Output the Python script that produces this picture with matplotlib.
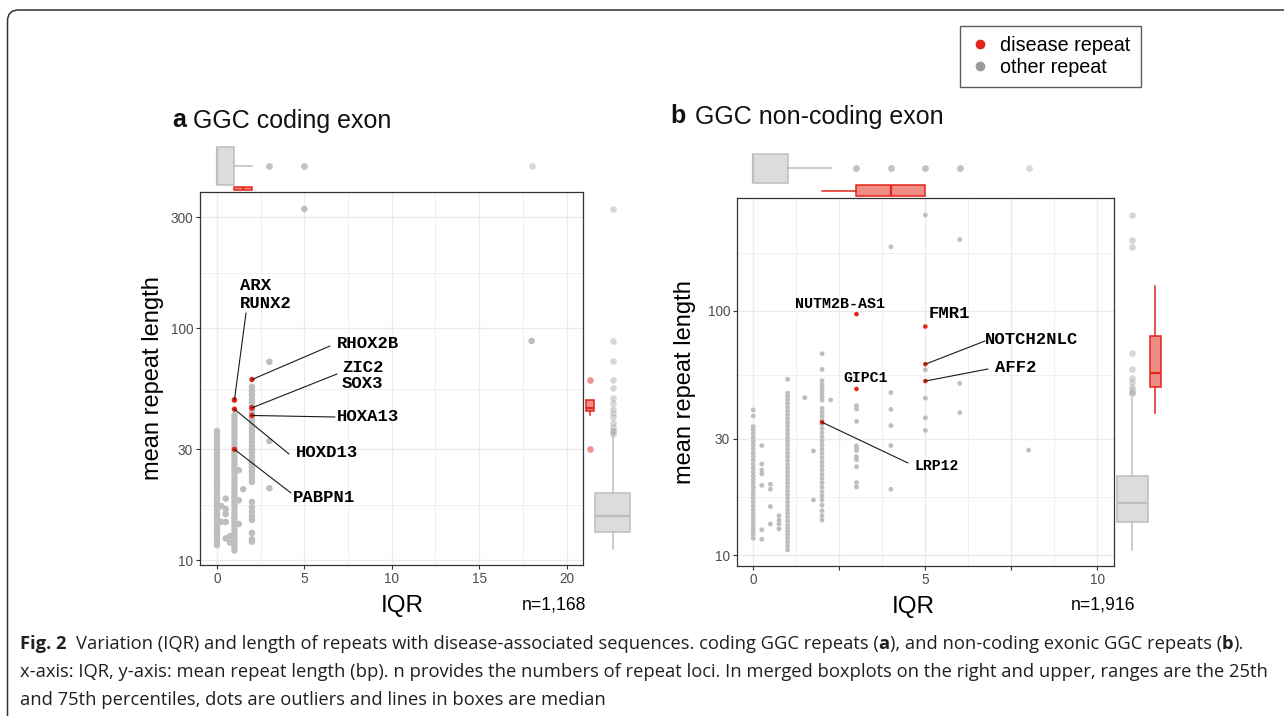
import matplotlib
matplotlib.use("Agg")
import matplotlib.pyplot as plt
from matplotlib.path import Path
from matplotlib.patches import PathPatch
from matplotlib.lines import Line2D

W, H = 1284, 716

# ====================== DATA ======================
# ---- panel a: GGC coding exon, other repeats (mean repeat length by IQR column)
a_other_iqr0 = [11.6, 12.0, 12.4, 12.8, 13.2, 13.6, 14.0, 14.5, 15.0, 15.5, 16.0, 16.5,
                17.0, 17.6, 18.2, 18.8, 19.4, 20.0, 20.7, 21.4, 22.1, 22.8, 23.6, 24.4,
                25.2, 26.0, 27.0, 28.0, 29.0, 30.0, 31.0, 32.2, 33.4, 34.6, 36.0]
a_other_iqr1 = [11.0, 11.4, 11.8, 12.2, 12.6, 13.0, 13.5, 14.0, 14.5, 15.0, 15.5, 16.0,
                16.6, 17.2, 17.8, 18.4, 19.0, 19.7, 20.4, 21.1, 21.8, 22.6, 23.4, 24.2,
                25.0, 25.9, 26.8, 27.8, 28.8, 29.8, 30.9, 32.0, 33.2, 34.4, 35.6, 36.9,
                38.2, 39.6, 41.0, 42.2]
a_other_iqr2 = [12.0, 12.3, 13.1, 14.9, 15.5, 16.2, 16.9, 17.8, 21.7, 22.5, 23.3, 24.2,
                25.1, 26.0, 27.0, 28.0, 29.0, 30.0, 31.0, 32.2, 33.4, 34.6, 35.9, 37.2,
                38.5, 40.0, 41.5, 43.0, 44.5, 46.0, 47.7, 49.5, 51.5, 53.5, 55.8]
a_other_misc_iqr = [0.25, 0.5, 0.5, 0.25, 0.5, 0.5, 0.75, 0.75, 0.5,
                    1.25, 1.5, 1.25, 1.25, 3, 3, 3, 5, 18]
a_other_misc_len = [17.1, 18.4, 15.8, 14.6, 14.6, 12.4, 12.7, 11.9, 16.6,
                    24.4, 20.2, 18.1, 14.3, 32.6, 20.4, 71.6, 326, 88]

a_genes = ["ARX", "RUNX2", "RHOX2B", "ZIC2", "SOX3", "HOXA13", "HOXD13", "PABPN1"]
a_gene_iqr = [1, 1, 2, 2, 2, 2, 1, 1]
a_gene_len = [49.0, 49.0, 60.0, 45.3, 45.3, 42.0, 44.7, 30.0]

# marginal boxplot statistics: [q1, median, q3, whisker_low, whisker_high]
a_top_other_box = [0, 0, 1, 0, 2]
a_top_other_out = [3, 3, 5, 5, 18]
a_top_dis_box = [1, 1.5, 2, 1, 2]
a_top_dis_out = []
a_right_other_box = [13.2, 15.5, 19.4, 11.2, 34.6]
a_right_other_out = [326, 88, 72, 60, 55.4, 50, 47.5, 45, 43.2, 41.5, 39, 37.5, 36, 36, 35]
a_right_dis_box = [44.0, 45.3, 49.0, 42.0, 49.0]
a_right_dis_out = [30, 60]

# ---- panel b: GGC non-coding exon
b_other_iqr0 = [11.7, 12.1, 12.5, 12.9, 13.3, 13.8, 14.3, 14.8, 15.3, 15.9, 16.5, 17.1,
                17.7, 18.3, 19.0, 19.7, 20.4, 21.1, 21.9, 22.7, 23.5, 24.4, 25.3, 26.2,
                27.2, 28.2, 29.2, 30.3, 31.4, 32.5, 33.6, 37.1, 39.3]
b_other_iqr1 = [10.5, 10.9, 11.3, 11.7, 12.1, 12.5, 12.9, 13.3, 13.8, 14.3, 14.8, 15.3,
                15.9, 16.5, 17.1, 17.7, 18.3, 19.0, 19.7, 20.4, 21.1, 21.9, 22.7, 23.5,
                24.4, 25.3, 26.2, 27.2, 28.2, 29.2, 30.3, 31.4, 32.5, 33.7, 34.9, 36.2,
                37.5, 38.9, 40.3, 41.8, 43.3, 44.8, 46.0, 52.5]
b_other_iqr2 = [13.9, 14.5, 15.2, 16.0, 16.8, 17.5, 18.2, 19.0, 19.8, 20.6, 21.4, 22.3,
                23.2, 24.1, 25.1, 26.1, 27.1, 28.2, 29.3, 30.5, 31.7, 33.0, 34.3, 35.7,
                37.1, 38.5, 39.9, 43.1, 44.4, 45.7, 47.0, 48.3, 50.0, 51.8, 57.6, 66.8]
b_other_misc_iqr = [0.25, 0.25, 0.25, 0.25, 0.25, 0.25, 0.25,
                    0.5, 0.5, 0.5, 0.5, 0.75, 0.75, 0.75, 0.75,
                    1.5, 1.75, 1.75, 2.25,
                    3, 3, 3, 3, 3, 3, 3, 3, 3, 3, 3,
                    4, 4, 4, 4, 4, 4, 5, 5, 5, 5, 5, 6, 6, 6, 8]
b_other_misc_len = [28.1, 23.6, 22.3, 21.5, 19.3, 12.7, 11.6,
                    19.5, 18.6, 15.8, 13.4, 14.5, 13.9, 13.4, 12.8,
                    44.1, 26.7, 16.8, 43.2,
                    40.9, 39.6, 35.3, 28.0, 27.4, 26.8, 25.3, 24.6, 23.0, 19.8, 19.0,
                    183, 46.3, 39.5, 33.9, 28.1, 18.6, 247, 57.4, 43.9, 36.5, 32.4,
                    196, 50.5, 38.3, 26.9]

b_genes = ["NUTM2B-AS1", "FMR1", "NOTCH2NLC", "AFF2", "GIPC1", "LRP12"]
b_gene_iqr = [3, 5, 5, 5, 3, 2]
b_gene_len = [97.0, 86.3, 60.5, 51.6, 47.9, 35.0]

b_top_other_box = [0, 0, 1, 0, 2.25]
b_top_other_out = [3, 3, 4, 4, 5, 5, 6, 6, 8]
b_top_dis_box = [3, 4, 5, 2, 5]
b_top_dis_out = []
b_right_other_box = [13.6, 16.4, 21.1, 10.5, 44.0]
b_right_other_out = [246, 196, 183, 67, 57.6, 53.2, 51, 49, 47.5, 46, 46]
b_right_dis_box = [48.6, 55.8, 79.0, 38.3, 126.0]
b_right_dis_out = []

a_n_label = "n=1,168"
b_n_label = "n=1,916"
legend_labels = ["disease repeat", "other repeat"]

# ====================== STYLE ======================
RED = "#E2261C"
GRAY_PT = "#BEBEBE"
LEG_GRAY = "#9A9A9A"
SANS = "Liberation Sans"
MONO = "Liberation Mono"
plt.rcParams["font.family"] = [SANS, "DejaVu Sans"]

fig = plt.figure(figsize=(W / 100, H / 100), dpi=100)
fig.patch.set_facecolor("white")


def px_axes(x0, y0, x1, y1):
    return fig.add_axes([x0 / W, 1 - y1 / H, (x1 - x0) / W, (y1 - y0) / H])


def ftext(x, y, s, **kw):
    return fig.text(x / W, 1 - y / H, s, **kw)


def style_main(ax, xlim, ylim, xt, xtl, xminor, yt, yminor):
    ax.set_yscale("log")
    ax.set_xlim(*xlim)
    ax.set_ylim(*ylim)
    for v in xt:
        ax.axvline(v, color="#EBEBEB", lw=1.0, zorder=0)
    for v in xminor:
        ax.axvline(v, color="#F0F0F0", lw=0.7, zorder=0)
    for v in yt:
        ax.axhline(v, color="#EBEBEB", lw=1.0, zorder=0)
    for v in yminor:
        ax.axhline(v, color="#F0F0F0", lw=0.7, zorder=0)
    ax.set_xticks(xt)
    ax.set_xticklabels(xtl)
    ax.set_yticks(yt)
    ax.set_yticklabels([str(v) for v in yt])
    ax.yaxis.set_minor_locator(matplotlib.ticker.NullLocator())
    ax.tick_params(length=3, width=0.8, color="#333333", labelcolor="#4D4D4D",
                   labelsize=9.8, pad=2)
    for sp in ax.spines.values():
        sp.set_color("#333333")
        sp.set_linewidth(0.9)


def draw_box(ax, stats, outs, pos, width, orient, face, edge, med, fc_out, alpha_out):
    q1, md, q3, lo, hi = stats
    st = [dict(q1=q1, med=md, q3=q3, whislo=lo, whishi=hi, fliers=outs)]
    ax.bxp(st, positions=[pos], widths=[width], orientation=orient, patch_artist=True,
           showcaps=False, showfliers=True,
           boxprops=dict(facecolor=face, edgecolor=edge, linewidth=1.1),
           medianprops=dict(color=med, linewidth=1.6),
           whiskerprops=dict(color=edge, linewidth=1.1),
           flierprops=dict(marker="o", markersize=4.8, markerfacecolor=fc_out,
                           markeredgecolor="none", alpha=alpha_out))


def margin_axes(rect):
    m = px_axes(*rect)
    m.set_axis_off()
    return m


# ---------------- panel a ----------------
ax_a = px_axes(200, 192, 583, 565)
style_main(ax_a, (-0.97, 20.94), (9.52, 386), [0, 5, 10, 15, 20], ["0", "5", "10", "15", "20"],
           [2.5, 7.5, 12.5, 17.5], [10, 30, 100, 300],
           [(10 * 30) ** 0.5, (30 * 100) ** 0.5, (100 * 300) ** 0.5])
ax_x = ([0] * len(a_other_iqr0) + [1] * len(a_other_iqr1) + [2] * len(a_other_iqr2)
        + a_other_misc_iqr)
ax_y = a_other_iqr0 + a_other_iqr1 + a_other_iqr2 + a_other_misc_len
ax_a.scatter(ax_x, ax_y, s=22, color=GRAY_PT, edgecolors="none", zorder=2)
ax_a.scatter(a_gene_iqr, a_gene_len, s=15, color=RED, edgecolors="none", zorder=3)

# labels for panel a: (text x, text y) in px ; line end in px (None: no line)
a_label_layout = {
    "ARX": ((240, 286), None),
    "RUNX2": ((240, 303), (246, 313)),
    "RHOX2B": ((337, 343), (330, 346)),
    "ZIC2": ((342, 367), None),
    "SOX3": ((342, 383), (337, 374)),
    "HOXA13": ((337, 417), (335, 417)),
    "HOXD13": ((296, 453), (289, 454)),
    "PABPN1": ((293, 498), (291, 493)),
}
for g, xi, yi in zip(a_genes, a_gene_iqr, a_gene_len):
    (tx, ty), lend = a_label_layout[g]
    ftext(tx, ty, g, family=MONO, fontweight="bold", fontsize=12.4, va="center", ha="left")
    if lend is not None:
        ax_a.annotate("", xy=(xi, yi), xycoords="data", xytext=(lend[0], H - lend[1]),
                      textcoords="figure pixels",
                      arrowprops=dict(arrowstyle="-", color="#1A1A1A", lw=0.8,
                                      shrinkA=0, shrinkB=0), zorder=4)

# marginal boxplots panel a
m_top_a = margin_axes((200, 145, 583, 191))
m_top_a.set_xlim(ax_a.get_xlim())
m_top_a.set_ylim(0, 1)
draw_box(m_top_a, a_top_other_box, a_top_other_out, 0.543, 0.826, "horizontal",
         "#DCDCDC", "#BDBDBD", "#BDBDBD", "#A8A8A8", 0.45)
draw_box(m_top_a, a_top_dis_box, a_top_dis_out, 0.054, 0.076, "horizontal",
         "#EF8C84", RED, RED, RED, 0.5)

m_right_a = margin_axes((584, 192, 632, 565))
m_right_a.set_yscale("log")
m_right_a.set_ylim(ax_a.get_ylim())
m_right_a.set_xlim(0, 1)
draw_box(m_right_a, a_right_dis_box, a_right_dis_out, 0.119, 0.167, "vertical",
         "#EF8C84", RED, RED, RED, 0.5)
draw_box(m_right_a, a_right_other_box, a_right_other_out, 0.598, 0.73, "vertical",
         "#DCDCDC", "#BDBDBD", "#BDBDBD", "#A8A8A8", 0.45)

# ---------------- panel b ----------------
ax_b = px_axes(737, 198, 1114, 566)
style_main(ax_b, (-0.47, 10.48), (9.02, 290), [0, 2.5, 5, 7.5, 10], ["0", "", "5", "", "10"],
           [1.25, 3.75, 6.25, 8.75], [10, 30, 100],
           [(10 * 30) ** 0.5, (30 * 100) ** 0.5, (100 * 300) ** 0.5])
bx_x = ([0] * len(b_other_iqr0) + [1] * len(b_other_iqr1) + [2] * len(b_other_iqr2)
        + b_other_misc_iqr)
bx_y = b_other_iqr0 + b_other_iqr1 + b_other_iqr2 + b_other_misc_len
ax_b.scatter(bx_x, bx_y, s=12, color=GRAY_PT, edgecolors="none", zorder=2)
ax_b.scatter(b_gene_iqr, b_gene_len, s=11, color=RED, edgecolors="none", zorder=3)

b_label_layout = {
    "NUTM2B-AS1": ((840, 304), "center", 10.8, None),
    "FMR1": ((929, 313), "left", 12.4, None),
    "NOTCH2NLC": ((985, 340), "left", 12.4, (985, 341)),
    "AFF2": ((995, 368), "left", 12.4, (988, 369)),
    "GIPC1": ((866, 378), "center", 10.7, None),
    "LRP12": ((914, 466), "left", 10.6, (908, 463)),
}
for g, xi, yi in zip(b_genes, b_gene_iqr, b_gene_len):
    (tx, ty), ha, fs, lend = b_label_layout[g]
    ftext(tx, ty, g, family=MONO, fontweight="bold", fontsize=fs, va="center", ha=ha)
    if lend is not None:
        ax_b.annotate("", xy=(xi, yi), xycoords="data", xytext=(lend[0], H - lend[1]),
                      textcoords="figure pixels",
                      arrowprops=dict(arrowstyle="-", color="#1A1A1A", lw=0.8,
                                      shrinkA=0, shrinkB=0), zorder=4)

m_top_b = margin_axes((737, 150, 1114, 198))
m_top_b.set_xlim(ax_b.get_xlim())
m_top_b.set_ylim(0, 1)
draw_box(m_top_b, b_top_other_box, b_top_other_out, 0.619, 0.598, "horizontal",
         "#DCDCDC", "#BDBDBD", "#BDBDBD", "#A8A8A8", 0.45)
draw_box(m_top_b, b_top_dis_box, b_top_dis_out, 0.156, 0.229, "horizontal",
         "#EF8C84", RED, RED, RED, 0.5)

m_right_b = margin_axes((1114, 198, 1164, 566))
m_right_b.set_yscale("log")
m_right_b.set_ylim(ax_b.get_ylim())
m_right_b.set_xlim(0, 1)
draw_box(m_right_b, b_right_other_box, b_right_other_out, 0.364, 0.62, "vertical",
         "#DCDCDC", "#BDBDBD", "#BDBDBD", "#A8A8A8", 0.45)
draw_box(m_right_b, b_right_dis_box, b_right_dis_out, 0.82, 0.22, "vertical",
         "#EF8C84", RED, RED, RED, 0.5)

# ---------------- titles / axis labels ----------------
ftext(172, 120, "a", fontsize=18, fontweight="bold", va="center", ha="left", color="#111111")
ftext(193, 121, "GGC coding exon", fontsize=18, va="center", ha="left", color="#111111")
ftext(670, 116, "b", fontsize=18, fontweight="bold", va="center", ha="left", color="#111111")
ftext(695, 117, "GGC non-coding exon", fontsize=18, va="center", ha="left", color="#111111")

ftext(153, 378, "mean repeat length", fontsize=17, rotation=90, va="center", ha="center")
ftext(685, 382, "mean repeat length", fontsize=17, rotation=90, va="center", ha="center")
ftext(402, 606, "IQR", fontsize=17.5, va="center", ha="center")
ftext(913, 607, "IQR", fontsize=17.5, va="center", ha="center")
ftext(554, 605, a_n_label, fontsize=12.7, va="center", ha="center")
ftext(1103, 605, b_n_label, fontsize=12.7, va="center", ha="center")

# ---------------- legend ----------------
handles = [Line2D([], [], marker="o", ls="", color=RED, markersize=6),
           Line2D([], [], marker="o", ls="", color=LEG_GRAY, markersize=6)]
leg = fig.legend(handles, legend_labels, loc="upper left",
                 bbox_to_anchor=(960 / W, 1 - 26 / H), fontsize=14.2, frameon=True,
                 fancybox=False, edgecolor="#333333", borderpad=0.5, handletextpad=0.55,
                 handlelength=1.0, labelspacing=0.15, borderaxespad=0)
leg.get_frame().set_linewidth(1.0)

# ---------------- outer frame ----------------
r = 11
verts = [(7.5, H), (7.5, 10 + r), (7.5, 10), (7.5 + r, 10), (W, 10)]
verts = [(x / W, 1 - y / H) for x, y in verts]
codes = [Path.MOVETO, Path.LINETO, Path.CURVE3, Path.CURVE3, Path.LINETO]
fig.add_artist(PathPatch(Path(verts, codes), transform=fig.transFigure, fill=False,
                         edgecolor="#333333", lw=1.1))

# ---------------- caption ----------------
CAP = "Open Sans"
cap_lines = [
    [("Fig. 2", "bold"), ("Variation (IQR) and length of repeats with disease-associated sequences. coding GGC repeats (", "normal"),
     ("a", "bold"), ("), and non-coding exonic GGC repeats (", "normal"), ("b", "bold"), (").", "normal")],
    [("x-axis: IQR, y-axis: mean repeat length (bp). n provides the numbers of repeat loci. In merged boxplots on the right and upper, ranges are the 25th", "normal")],
    [("and 75th percentiles, dots are outliers and lines in boxes are median", "normal")],
]
cap_y = [644, 672, 700]
renderer = fig.canvas.get_renderer()
cap_fs = 13.2
for runs, yy in zip(cap_lines, cap_y):
    x = 20
    for i, (s, wgt) in enumerate(runs):
        t = ftext(x, yy, s, family=[CAP, "DejaVu Sans"], fontweight=wgt, fontsize=cap_fs,
                  va="center", ha="left", color="#231F20")
        bb = t.get_window_extent(renderer=renderer)
        x += bb.width
        if i == 0 and s.startswith("Fig"):
            x += 9

fig.savefig("out.png", dpi=100, facecolor="white")
